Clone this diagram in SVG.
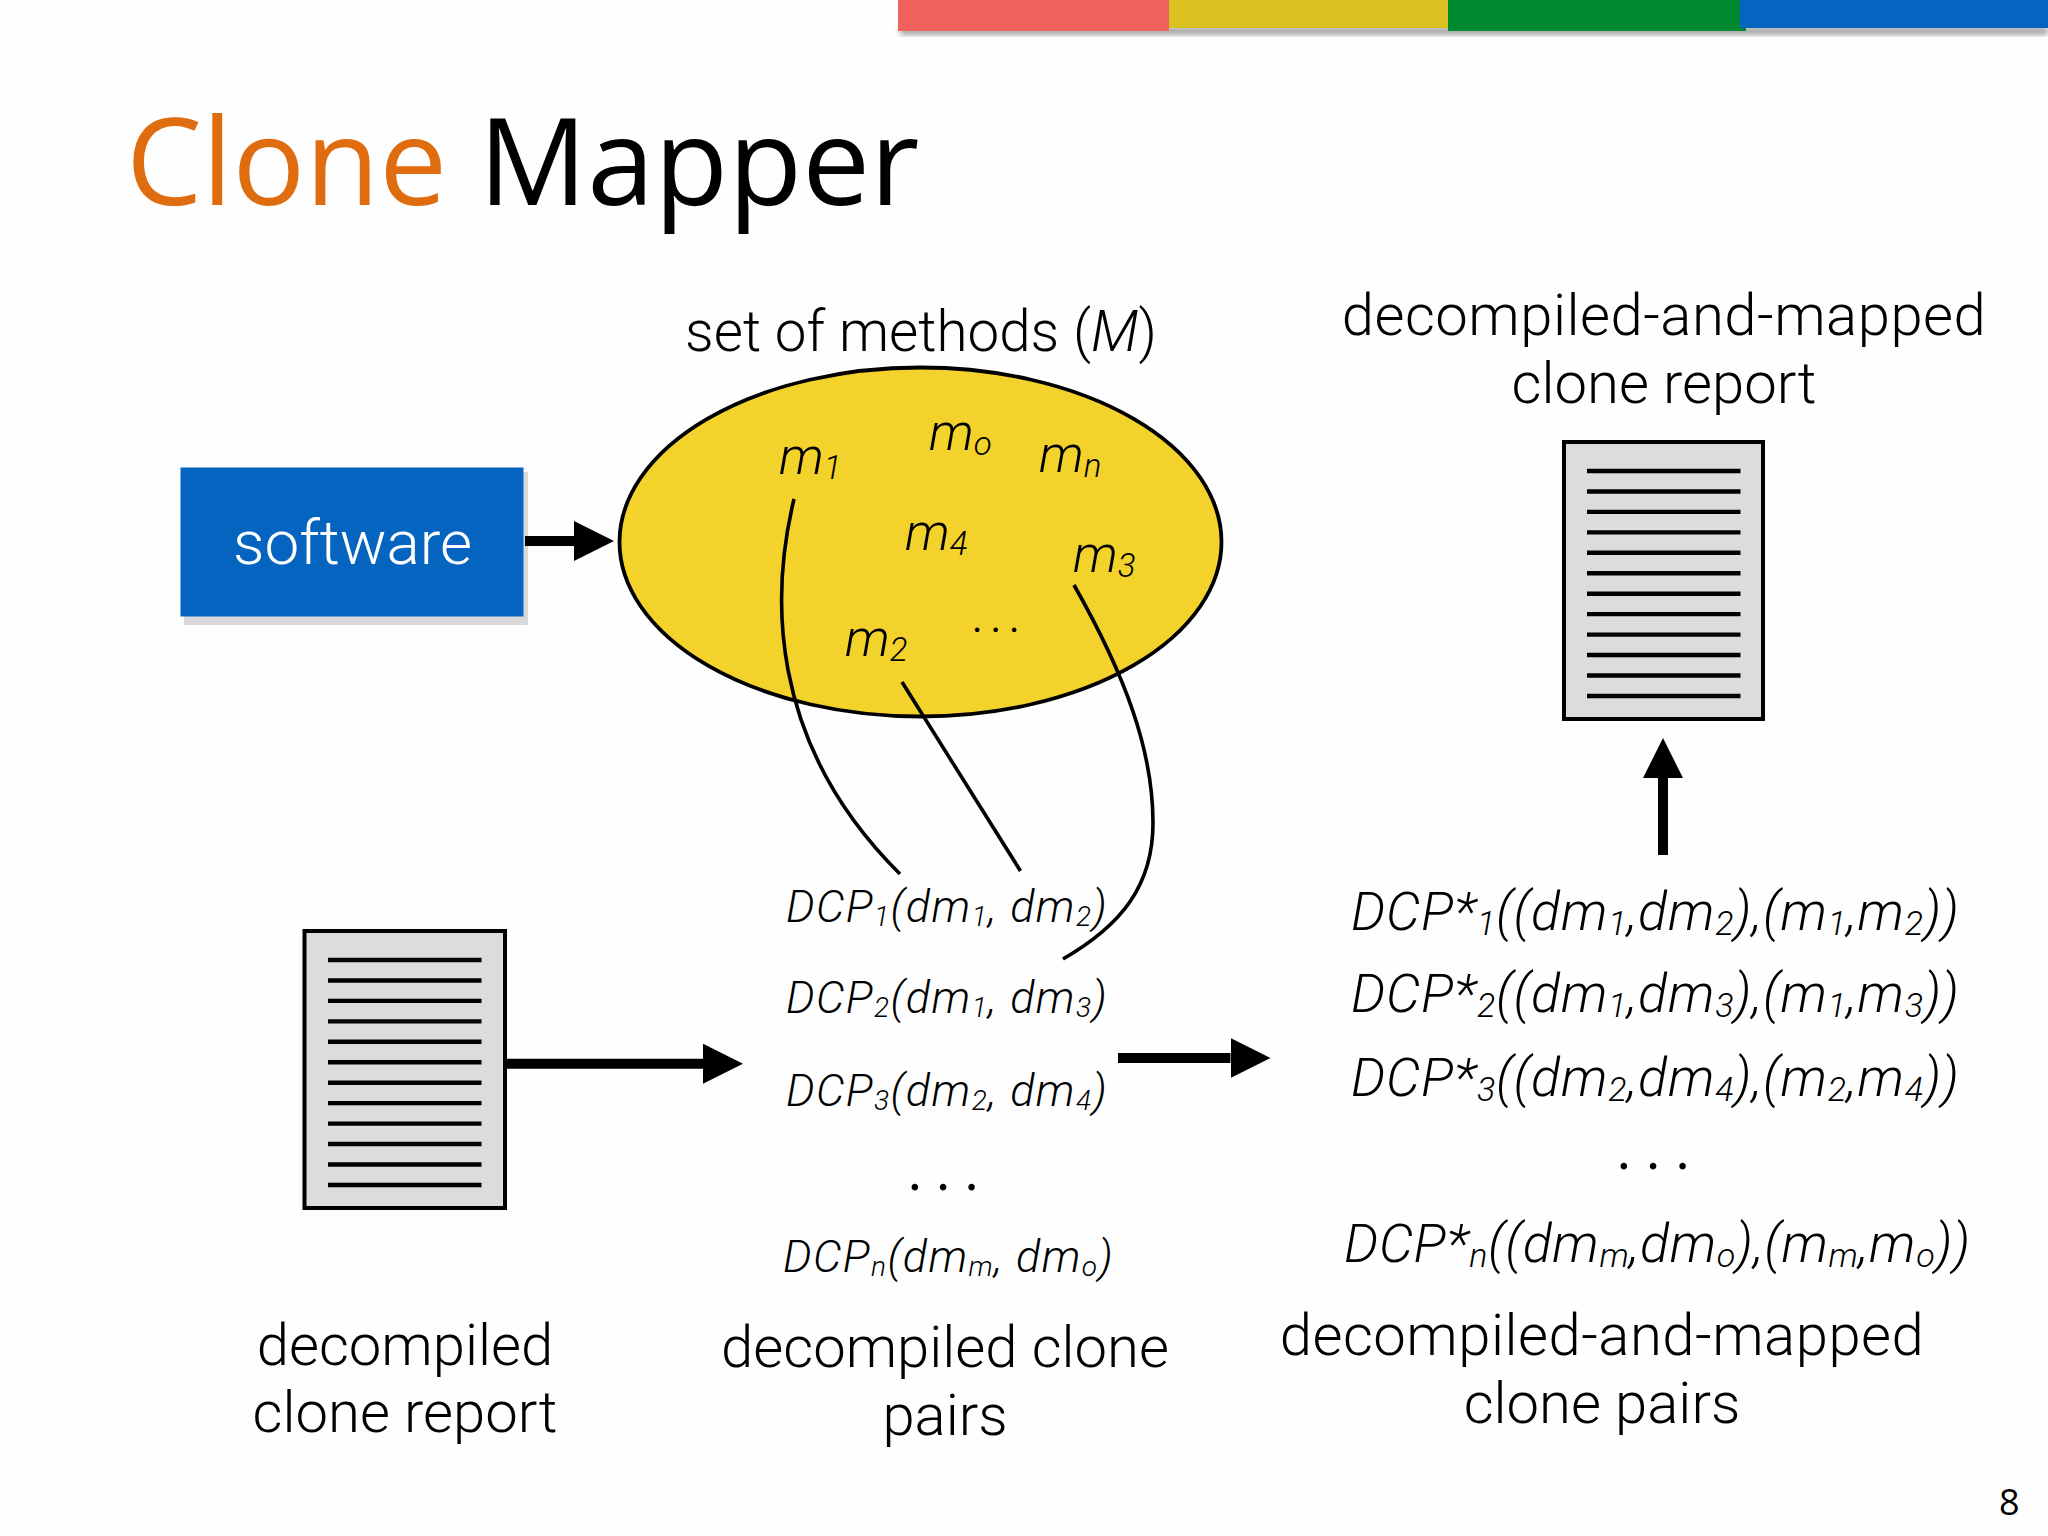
<svg xmlns="http://www.w3.org/2000/svg" width="2048" height="1536" viewBox="0 0 2048 1536">
<style>
text{font-family:"Roboto","Liberation Sans",sans-serif;font-weight:300;fill:#000}
.lab{font-size:58px;text-anchor:middle}
.wide{letter-spacing:.5px}
.m{font-size:52px;font-style:italic}
.d{font-size:45px;font-style:italic;letter-spacing:1.4px}
.s{font-size:54px;font-style:italic;letter-spacing:.77px}
.dots{font-style:italic;font-weight:400;font-size:60px}
.doc{fill:#dcdcde;stroke:#000;stroke-width:4}
.rule{stroke:#000;stroke-width:4.4}
.cv{fill:none;stroke:#000;stroke-width:3.6}
.ar{fill:none;stroke:#000;stroke-width:10;marker-end:url(#head)}
</style>
<defs>
<marker id="head" markerUnits="userSpaceOnUse" viewBox="0 0 40 40" markerWidth="40" markerHeight="40" refX="0" refY="20" orient="auto"><path d="M0 0L40 20L0 40Z" fill="#000"/></marker>
<filter id="bl" x="-5%" y="-50%" width="110%" height="200%"><feGaussianBlur stdDeviation="3"/></filter>
<g id="lines">
<path class="rule" d="M0 0H153.500M0 20.450H153.500M0 40.900H153.500M0 61.350H153.500M0 81.800H153.500M0 102.250H153.500M0 122.700H153.500M0 143.150H153.500M0 163.600H153.500M0 184.050H153.500M0 204.500H153.500M0 224.950H153.500"/>
</g>
</defs>
<rect width="2048" height="1536" fill="#fefefe"/>
<g id="topbar">
<rect x="900" y="28" width="1148" height="6" fill="#888" filter="url(#bl)"/>
<rect x="898" y="0" width="271" height="31" fill="#f0605c"/>
<rect x="1169" y="0" width="279" height="28" fill="#dcc020"/>
<rect x="1448" y="0" width="298" height="31" fill="#008a30"/>
<rect x="1740" y="0" width="308" height="28" fill="#0564c0"/>
</g>
<g id="title"><text x="126" y="205" style="font-family:'Open Sans','Noto Sans',sans-serif;font-size:120.800px;font-weight:400"><tspan style="fill:#e06c10">Clone</tspan> Mapper</text></g>
<g id="software">
<rect x="184" y="472" width="344" height="153" fill="#d9d9dc"/>
<rect x="180.500" y="467.500" width="343" height="149" fill="#0564c0"/>
<text x="352.500" y="564" style="font-size:62px;text-anchor:middle;fill:#fff">software</text>
</g>
<g id="methods">
<ellipse cx="920.500" cy="542" rx="301" ry="174.500" fill="#f3d22b" stroke="#000" stroke-width="3.800"/>
<text class="lab" x="921" y="351" style="font-size:56.500px">set of methods (<tspan font-style="italic">M</tspan>)</text>
<text class="m" x="779" y="474">m<tspan font-size="33" dy="5">1</tspan></text>
<text class="m" x="929" y="450">m<tspan font-size="33" dy="5">o</tspan></text>
<text class="m" x="1039" y="472">m<tspan font-size="33" dy="5">n</tspan></text>
<text class="m" x="905" y="550">m<tspan font-size="33" dy="5">4</tspan></text>
<text class="m" x="1073" y="572">m<tspan font-size="33" dy="5">3</tspan></text>
<text class="m" x="845" y="656">m<tspan font-size="33" dy="5">2</tspan></text>
<text x="972" y="632" style="font-size:40px;font-weight:400;letter-spacing:8px">...</text>
</g>
<g id="doc-report">
<rect class="doc" x="1564" y="442" width="199" height="277"/>
<use href="#lines" x="1587" y="471"/>
<text class="lab wide" x="1664" y="335">decompiled-and-mapped</text>
<text class="lab" x="1664" y="403">clone report</text>
</g>
<g id="doc-decompiled">
<rect class="doc" x="304.500" y="931" width="200.500" height="277"/>
<use href="#lines" x="328" y="960"/>
<text class="lab" x="405" y="1365">decompiled</text>
<text class="lab" x="405" y="1432">clone report</text>
</g>
<g id="pairs">
<text class="d" x="786" y="922">DCP<tspan font-size="28" dy="4">1</tspan><tspan dy="-4">(dm</tspan><tspan font-size="28" dy="4">1</tspan><tspan dy="-4">, dm</tspan><tspan font-size="28" dy="4">2</tspan><tspan dy="-4">)</tspan></text>
<text class="d" x="786" y="1013">DCP<tspan font-size="28" dy="4">2</tspan><tspan dy="-4">(dm</tspan><tspan font-size="28" dy="4">1</tspan><tspan dy="-4">, dm</tspan><tspan font-size="28" dy="4">3</tspan><tspan dy="-4">)</tspan></text>
<text class="d" x="786" y="1106">DCP<tspan font-size="28" dy="4">3</tspan><tspan dy="-4">(dm</tspan><tspan font-size="28" dy="4">2</tspan><tspan dy="-4">, dm</tspan><tspan font-size="28" dy="4">4</tspan><tspan dy="-4">)</tspan></text>
<text class="dots" x="910" y="1190" style="letter-spacing:13px">...</text>
<text class="d" x="783" y="1272">DCP<tspan font-size="28" dy="4">n</tspan><tspan dy="-4">(dm</tspan><tspan font-size="28" dy="4">m</tspan><tspan dy="-4">, dm</tspan><tspan font-size="28" dy="4">o</tspan><tspan dy="-4">)</tspan></text>
<text class="lab" x="945" y="1367">decompiled clone</text>
<text class="lab" x="945" y="1435">pairs</text>
</g>
<g id="mapped">
<text class="s" x="1351" y="930">DCP*<tspan font-size="34" dy="5">1</tspan><tspan dy="-5">((dm</tspan><tspan font-size="34" dy="5">1</tspan><tspan dy="-5">,dm</tspan><tspan font-size="34" dy="5">2</tspan><tspan dy="-5">),(m</tspan><tspan font-size="34" dy="5">1</tspan><tspan dy="-5">,m</tspan><tspan font-size="34" dy="5">2</tspan><tspan dy="-5">))</tspan></text>
<text class="s" x="1351" y="1012">DCP*<tspan font-size="34" dy="5">2</tspan><tspan dy="-5">((dm</tspan><tspan font-size="34" dy="5">1</tspan><tspan dy="-5">,dm</tspan><tspan font-size="34" dy="5">3</tspan><tspan dy="-5">),(m</tspan><tspan font-size="34" dy="5">1</tspan><tspan dy="-5">,m</tspan><tspan font-size="34" dy="5">3</tspan><tspan dy="-5">))</tspan></text>
<text class="s" x="1351" y="1096">DCP*<tspan font-size="34" dy="5">3</tspan><tspan dy="-5">((dm</tspan><tspan font-size="34" dy="5">2</tspan><tspan dy="-5">,dm</tspan><tspan font-size="34" dy="5">4</tspan><tspan dy="-5">),(m</tspan><tspan font-size="34" dy="5">2</tspan><tspan dy="-5">,m</tspan><tspan font-size="34" dy="5">4</tspan><tspan dy="-5">))</tspan></text>
<text class="dots" x="1619" y="1169" style="letter-spacing:14px">...</text>
<text class="s" x="1344" y="1262" style="letter-spacing:.6px">DCP*<tspan font-size="34" dy="5">n</tspan><tspan dy="-5">((dm</tspan><tspan font-size="34" dy="5">m</tspan><tspan dy="-5">,dm</tspan><tspan font-size="34" dy="5">o</tspan><tspan dy="-5">),(m</tspan><tspan font-size="34" dy="5">m</tspan><tspan dy="-5">,m</tspan><tspan font-size="34" dy="5">o</tspan><tspan dy="-5">))</tspan></text>
<text class="lab wide" x="1602" y="1355">decompiled-and-mapped</text>
<text class="lab" x="1602" y="1423">clone pairs</text>
</g>
<g id="page"><text x="1999" y="1515" style="font-family:'Open Sans',sans-serif;font-size:36px;font-weight:400">8</text></g>
<g id="connectors">
<path class="cv" d="M794 499C772 590 765 740 900 874"/>
<path class="cv" d="M902 682L1020.500 871"/>
<path class="cv" d="M1074 585C1125 675 1153 750 1153 823C1153 885 1122 925 1063 959"/>
<path class="ar" d="M525 541H574"/>
<path class="ar" d="M505 1063.700H703"/>
<path class="ar" d="M1118 1058H1230.500"/>
<path class="ar" d="M1663 855V778"/>
</g>
</svg>
